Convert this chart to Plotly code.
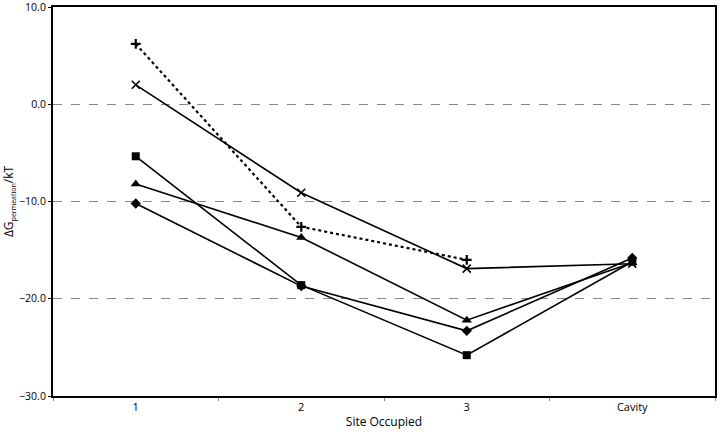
import plotly.graph_objects as go

categories = ["1", "2", "3", "Cavity"]
plus_vals = [6.2, -12.6, -16.0, None]
x_vals = [2.0, -9.1, -16.9, -16.4]
square_vals = [-5.35, -18.6, -25.8, -16.2]
triangle_vals = [-8.2, -13.7, -22.2, -16.3]
diamond_vals = [-10.2, -18.7, -23.3, -15.8]

y_ticks = [10, 0, -10, -20, -30]

fig = go.Figure()

def add(vals, symbol, size, dash="solid", lw=1.6, mline=0):
    fig.add_trace(go.Scatter(
        x=categories, y=vals, mode="lines+markers",
        line=dict(color="black", width=lw, dash=dash),
        marker=dict(symbol=symbol, size=size, color="black",
                    line=dict(color="black", width=mline)),
        connectgaps=False, showlegend=False))

add(plus_vals, "cross-thin", 7, dash="dot", lw=2.2, mline=2.2)
add(x_vals, "x-thin", 8, mline=1.6)
add(square_vals, "square", 8)
add(triangle_vals, "triangle-up", 9)
add(diamond_vals, "diamond", 8)

fig.update_layout(
    width=720, height=437,
    margin=dict(l=53, r=5, t=7, b=41, autoexpand=False),
    paper_bgcolor="white", plot_bgcolor="white",
    font=dict(family="Open Sans, Liberation Sans, sans-serif", size=11, color="black"),
    xaxis=dict(
        type="category", range=[-0.5, 3.5], automargin=False,
        tickson="boundaries", ticks="outside", ticklen=3, tickcolor="#888",
        showgrid=False, showline=True, linecolor="black", linewidth=2, mirror=True,
        title=dict(text="Site Occupied", font=dict(size=12), standoff=4),
        tickfont=dict(size=11),
    ),
    yaxis=dict(
        range=[-30, 10], tickvals=y_ticks, tickformat=".1f", automargin=False,
        ticks="outside", ticklen=3, tickcolor="black",
        ticklabeloverflow="allow",
        showgrid=True, gridcolor="#888", griddash="dash", gridwidth=0.8,
        zeroline=False,
        showline=True, linecolor="black", linewidth=2, mirror=True,
        title=dict(text="ΔG<sub><span style='font-size:7px'>permeation</span></sub>/kT",
                   font=dict(size=12), standoff=4),
        tickfont=dict(size=10.5),
    ),
)

fig.write_html("out.html", config={"displayModeBar": False},
               post_script="document.body.style.margin='0';document.body.style.overflow='hidden';")
